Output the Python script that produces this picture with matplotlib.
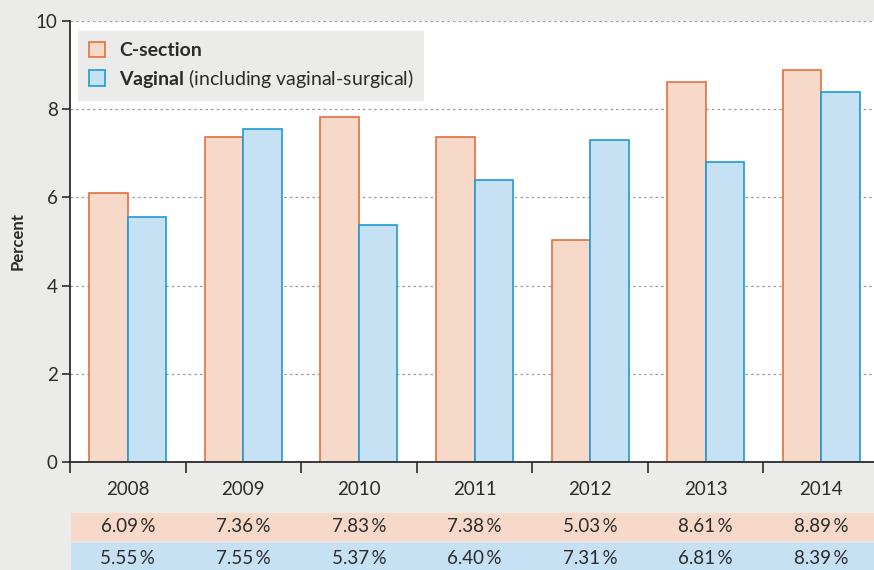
import numpy as np
import matplotlib
matplotlib.use("Agg")
import matplotlib.pyplot as plt

years = ["2008", "2009", "2010", "2011", "2012", "2013", "2014"]
c_section = [6.09, 7.36, 7.83, 7.38, 5.03, 8.61, 8.89]
vaginal = [5.55, 7.55, 5.37, 6.40, 7.31, 6.81, 8.39]

bg = "#ebebea"
c_fill, c_edge = "#f6d9c8", "#e2703f"
v_fill, v_edge = "#c7e1f4", "#1e9ad8"
txt = "#2b2b2b"

plt.rcParams["font.family"] = ["Lato", "DejaVu Sans"]
plt.rcParams["mathtext.fontset"] = "custom"
plt.rcParams["mathtext.bf"] = "Lato:bold"

W, H = 874, 570
fig = plt.figure(figsize=(W / 100, H / 100), dpi=100, facecolor=bg)

# main plot
ax = fig.add_axes([70 / W, 1 - 462 / H, 809 / W, 441 / H])
x = np.arange(len(years))
bw = 0.333
ax.bar(x - bw / 2, c_section, width=bw, color=c_fill, edgecolor=c_edge, linewidth=1.2,
       label="C-section", zorder=3)
ax.bar(x + bw / 2, vaginal, width=bw, color=v_fill, edgecolor=v_edge, linewidth=1.2,
       label=r"$\bf{Vaginal}$ (including vaginal-surgical)", zorder=3)

ax.set_xlim(-0.5, len(years) - 0.5)
ax.set_ylim(0, 10)
ax.set_yticks([0, 2, 4, 6, 8, 10])
ax.yaxis.grid(True, linestyle=(0, (2, 2.5)), color="#9a9a9a", linewidth=0.9, zorder=0)
ax.set_axisbelow(True)

ax.set_xticks(x)
ax.set_xticklabels(years)
ax.set_xticks(np.arange(-0.5, len(years), 1), minor=True)
ax.tick_params(axis="x", which="major", length=0, pad=14, labelsize=13.5, labelcolor=txt)
ax.tick_params(axis="x", which="minor", length=8, width=1.2, color=txt, direction="out")
ax.tick_params(axis="y", length=6, width=1.2, color=txt, labelsize=13.5, labelcolor=txt, pad=3)

for s in ["top", "right"]:
    ax.spines[s].set_visible(False)
for s in ["left", "bottom"]:
    ax.spines[s].set_color(txt)
    ax.spines[s].set_linewidth(1.3)
ax.spines["bottom"].set_zorder(5)

ax.set_ylabel("Percent", fontsize=12, fontweight="bold", color=txt)
ax.yaxis.set_label_coords(-44 / 809, 0.5)

leg = ax.legend(loc="upper left", bbox_to_anchor=(8 / 809, 1 - 10 / 441), frameon=True,
                fancybox=False, facecolor=bg, edgecolor="none", framealpha=1,
                fontsize=14, handlelength=0.85, handleheight=0.85, handletextpad=0.7,
                labelspacing=0.4, borderpad=0.55, borderaxespad=0)
leg.get_texts()[0].set_fontweight("bold")
for t in leg.get_texts():
    t.set_color(txt)

# value table under the chart
tab = fig.add_axes([71 / W, 1 - 572 / H, 808 / W, 59 / H])
tab.set_xlim(-0.5 + 1 / 115.6, len(years) - 0.5)
tab.set_ylim(0, 59)
tab.axis("off")
tab.axhspan(32, 59, color=c_fill)
tab.axhspan(0, 29, color=v_fill)
for i in range(len(years)):
    tab.text(x[i], 45.5, f"{c_section[i]:.2f}\u2009%", ha="center", va="center",
             fontsize=13.5, color=txt)
    tab.text(x[i], 14, f"{vaginal[i]:.2f}\u2009%", ha="center", va="center",
             fontsize=13.5, color=txt)

fig.savefig("out.png", dpi=100, facecolor=bg)
